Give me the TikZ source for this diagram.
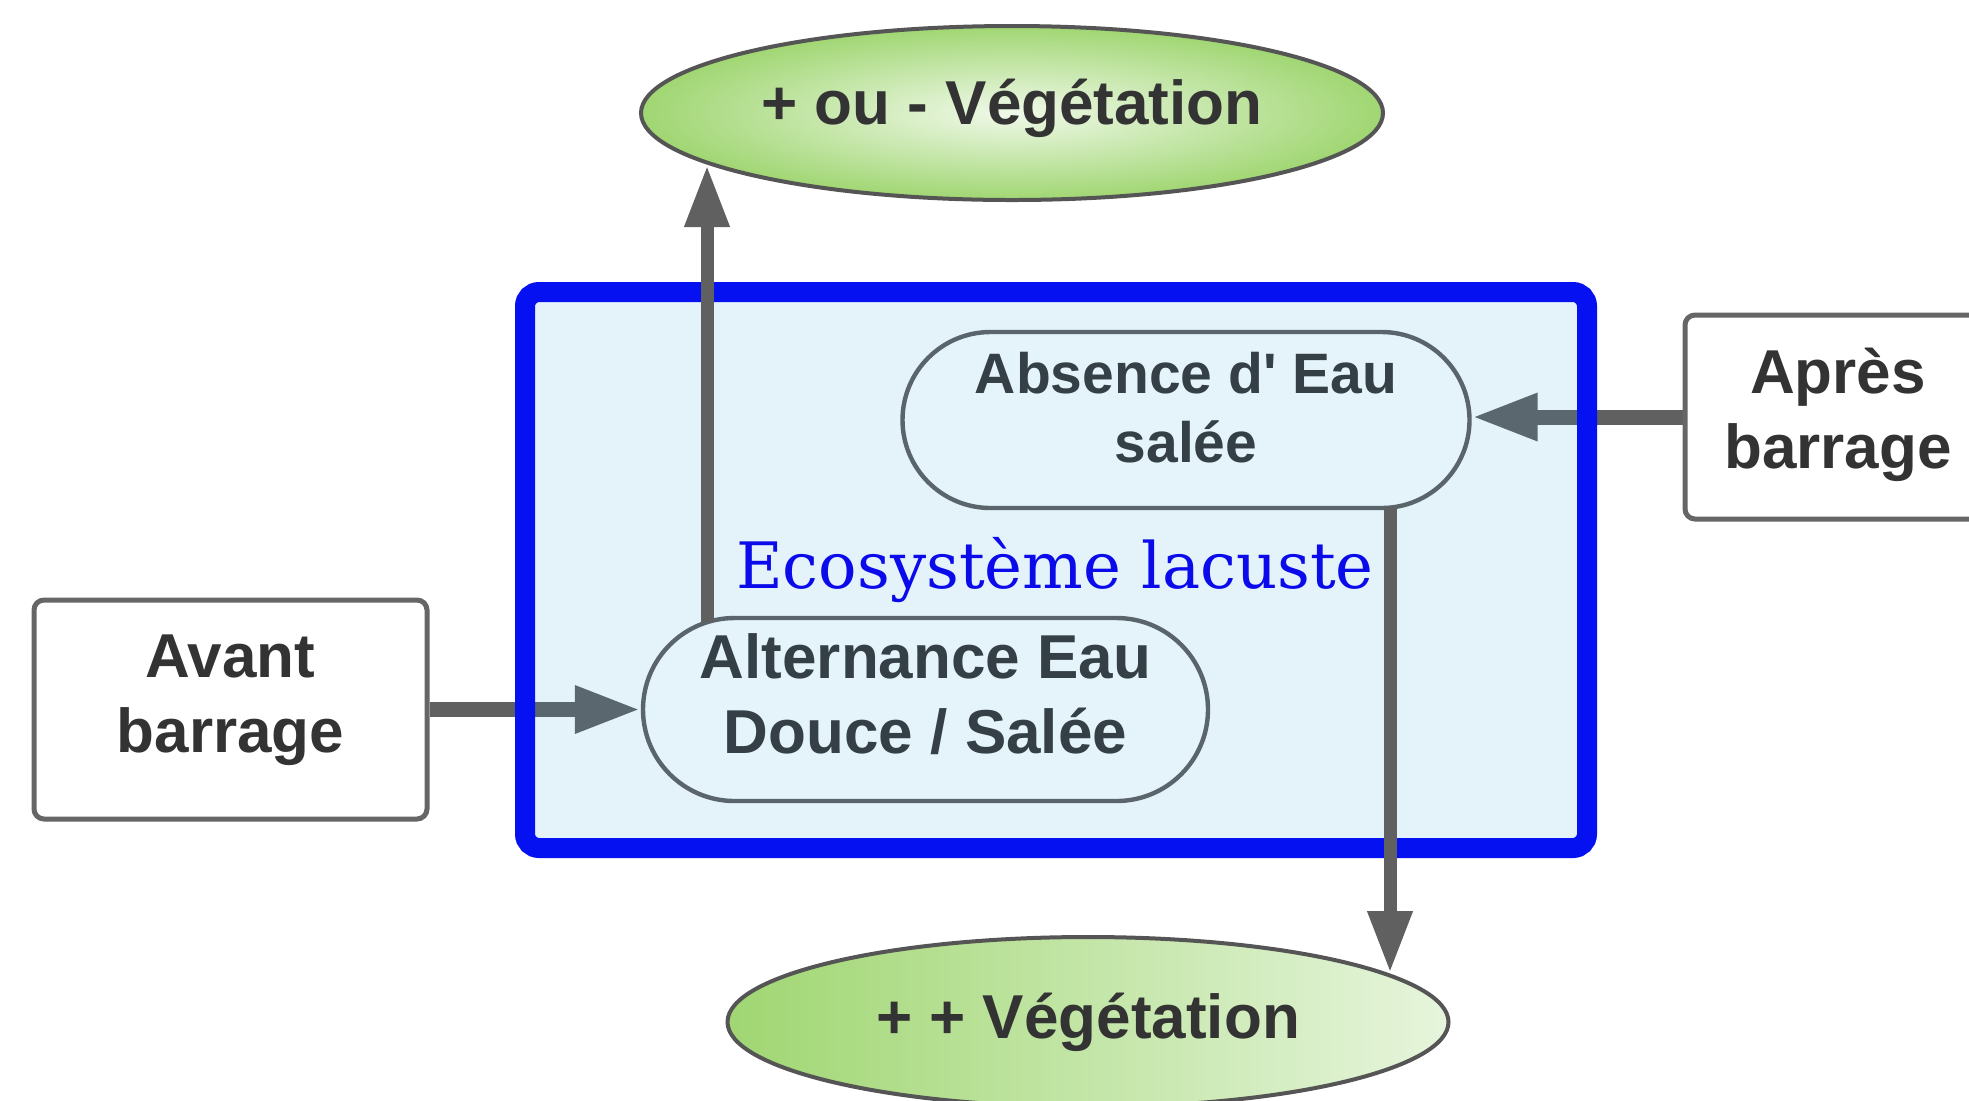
\documentclass[tikz,border=0pt]{standalone}
\usepackage{fontspec}
\setsansfont{Liberation Sans}
\newfontfamily\ecofont{DejaVu Serif}
\usetikzlibrary{shapes.geometric,arrows.meta}
\definecolor{vgreen}{RGB}{160,214,114}
\definecolor{vlight}{RGB}{240,249,233}
\definecolor{vlight2}{RGB}{230,245,220}
\definecolor{edgegray}{RGB}{85,85,85}
\definecolor{boxgray}{RGB}{102,102,102}
\definecolor{ovalgray}{RGB}{89,101,107}
\definecolor{ovalfill}{RGB}{229,243,251}
\definecolor{conngray}{RGB}{96,96,96}
\definecolor{txtgray}{RGB}{51,51,51}
\definecolor{ovaltxt}{RGB}{52,64,70}
\definecolor{framefill}{RGB}{50,157,217}
\definecolor{frameblue}{RGB}{5,17,240}
\definecolor{ecoblue}{RGB}{10,10,235}
\newcommand\bigsans{\sffamily\bfseries\fontsize{31}{37.5}\selectfont}
\newcommand\midsans{\sffamily\bfseries\fontsize{28.5}{34.5}\selectfont}
\pgfdeclarelayer{arrowlayer}
\pgfdeclarelayer{framelayer}
\pgfsetlayers{arrowlayer,framelayer,main}
\begin{document}
\begin{tikzpicture}[x=0.5pt,y=-0.5pt,
  vegell/.style={ellipse,draw=edgegray,line width=2pt,inner sep=0pt},
  boxnode/.style={rectangle,draw=boxgray,line width=2.5pt,rounded corners=5pt,
    fill=white,inner sep=0pt},
  boxtext/.style={inner sep=0pt,align=center,text=txtgray,font=\bigsans},
  ovalnode/.style={rectangle,draw=ovalgray,line width=2.2pt,fill=ovalfill,
    inner sep=0pt},
  ovaltext/.style={inner sep=0pt,align=center,text=ovaltxt},
  hconn/.style={draw=conngray,line width=7.5pt,
    -{Triangle[length=33pt,width=22pt]}},
  vconn/.style={draw=conngray,line width=6.5pt,
    -{Triangle[length=31pt,width=21pt]}},
  container/.style={rectangle,draw=frameblue,line width=10pt,rounded corners=7pt,
    fill=framefill,fill opacity=0.13,draw opacity=1,inner sep=0pt},
  ecotext/.style={text=ecoblue,font=\ecofont\fontsize{32}{40}\selectfont,inner sep=0pt}
]
\useasboundingbox (0,0) rectangle (1969,1100);

% green ellipses
\node[vegell,minimum width=371pt,minimum height=87pt,
  inner color=vlight,outer color=vgreen] (vegtop) at (1012,113) {};
\node[boxtext] (vegtopT) at ([yshift=2.5pt]vegtop.center) {+ ou - Végétation};
\node[vegell,minimum width=360.5pt,minimum height=85pt,
  left color=vgreen,middle color=vgreen,right color=vlight2] (vegbot) at (1088,1022) {};
\node[boxtext] (vegbotT) at (vegbot.center) {+ + Végétation};

% container
\begin{pgfonlayer}{framelayer}
\node[container,minimum width=531pt,minimum height=278pt] (cont) at (1056,570) {};
\end{pgfonlayer}

% boxes
\node[boxnode,minimum width=196.5pt,minimum height=109.5pt] (avant) at (230.5,709.5) {};
\node[boxtext] (avantT) at ([yshift=4.5pt]avant.center) {Avant\\barrage};
\node[boxnode,minimum width=153pt,minimum height=102pt] (apres) at (1838,417) {};
\node[boxtext] (apresT) at ([yshift=1pt]apres.center) {Après\\barrage};

% ovals
\node[ovalnode,minimum width=283.5pt,minimum height=88pt,rounded corners=44pt] (absn) at (1186,420) {};
\node[ovaltext,font=\midsans] (absnT) at ([yshift=6.25pt]absn.center) {Absence d\textquotesingle{} Eau\\salée};
\node[ovalnode,minimum width=282.5pt,minimum height=91.5pt,rounded corners=45.75pt] (alt) at (925.5,709.5) {};
\node[ovaltext,font=\bigsans] (altT) at ([yshift=7.5pt]alt.center) {Alternance Eau\\Douce / Salée};

% title
\node[ecotext,anchor=base] (eco) at (1055,588) {Ecosystème lacuste};

% horizontal connectors (under the container)
\begin{pgfonlayer}{arrowlayer}
\draw[hconn] (avant.east) -- (alt.west);
\draw[hconn] (apres.west) -- (apres.west -| absn.east);
\end{pgfonlayer}

% vertical connectors
\coordinate (upS) at (707,622);
\coordinate (upE) at (707,165);
\coordinate (dnS) at (1390,507);
\coordinate (dnE) at (1390,973);
\draw[vconn] (upS) -- (upE);
\draw[vconn] (dnS) -- (dnE);
\end{tikzpicture}
\end{document}
